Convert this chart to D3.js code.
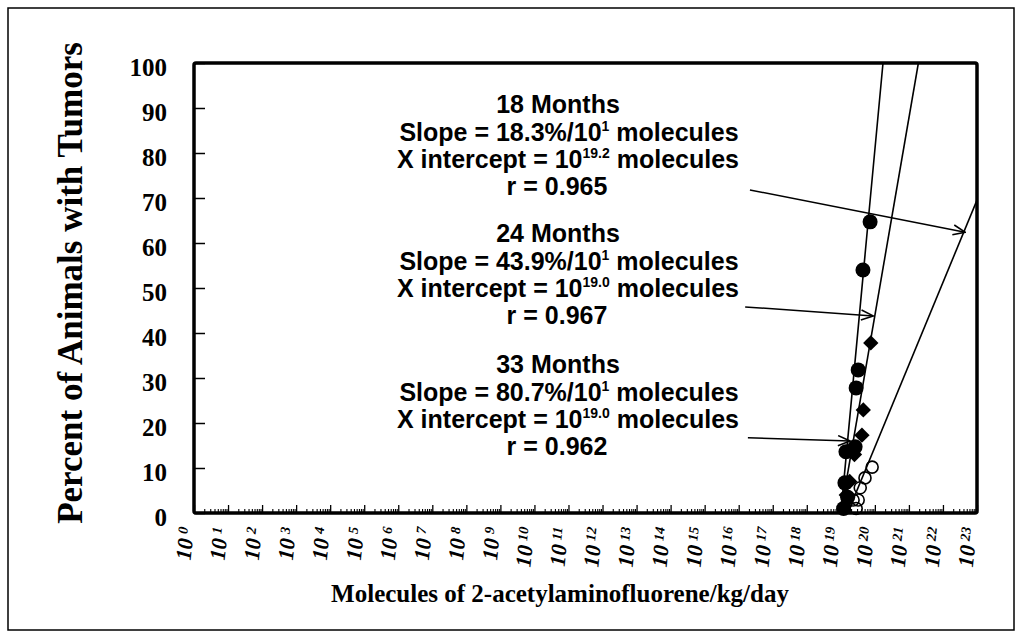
<!DOCTYPE html>
<html>
<head>
<meta charset="utf-8">
<script src="https://cdn.jsdelivr.net/npm/d3@7"></script>
<style>
  html, body { margin: 0; padding: 0; background: #fff; }
  svg { display: block; }
</style>
</head>
<body>
<svg id="chart" width="1023" height="638"></svg>
<script>
// ---------------- DATA ----------------
const seriesNames = ["18 Months", "24 Months", "33 Months"];
const slopes = [18.3, 43.9, 80.7];          // % per decade
const interceptExp = [19.2, 19.0, 19.0];    // log10 of x intercept
const interceptLabel = ["19.2", "19.0", "19.0"];
const rValues = ["0.965", "0.967", "0.962"];
const markerTypes = ["openCircle", "diamond", "filledCircle"];

// observed points: log10(dose) and percent with tumors
const logX18 = [19.92, 19.71, 19.57, 19.51, 19.36, 19.45];
const pct18  = [10.2, 7.8, 5.6, 2.9, 2.9, 1.0];
const logX24 = [19.88, 19.66, 19.62, 19.40, 19.26, 19.16, 19.10];
const pct24  = [37.8, 22.9, 17.3, 13.0, 7.0, 4.0, 1.5];
const logX33 = [19.86, 19.65, 19.51, 19.45, 19.42, 19.15, 19.12, 19.20, 19.08];
const pct33  = [64.7, 54.0, 31.8, 27.8, 14.7, 13.6, 6.7, 3.5, 1.0];

const yTicks = [0, 10, 20, 30, 40, 50, 60, 70, 80, 90, 100];
const xTickExps = d3.range(0, 24);   // 10^0 ... 10^23

// arrows (data coords: log10 x, percent)
const arrowFrom = [[16.33, 71.8], [16.19, 45.8], [16.27, 16.7]];
const arrowTo   = [[22.65, 62.4], [19.95, 43.8], [19.27, 16.0]];

const yTitle = "Percent of Animals with Tumors";
const xTitle = "Molecules of 2-acetylaminofluorene/kg/day";

// ---------------- LAYOUT ----------------
const svg = d3.select("#chart");
const L = 194, R = 977, T = 63, B = 513;
const x = d3.scaleLog().domain([1, 1e23]).range([L, R]);
const y = d3.scaleLinear().domain([0, 100]).range([B, T]);
const serif = "'Liberation Serif', 'Times New Roman', serif";
const sans = "'Liberation Sans', Arial, Helvetica, sans-serif";

// outer frame
svg.append("rect").attr("x", 8).attr("y", 8).attr("width", 1006).attr("height", 622)
  .attr("fill", "none").attr("stroke", "#000").attr("stroke-width", 1.5);

const defs = svg.append("defs");
defs.append("clipPath").attr("id", "plotClip")
  .append("rect").attr("x", L).attr("y", T).attr("width", R - L).attr("height", B - T);

// arrow marker
defs.append("marker")
  .attr("id", "arrowHead").attr("markerUnits", "userSpaceOnUse")
  .attr("viewBox", "0 0 14 12").attr("refX", 13).attr("refY", 6)
  .attr("markerWidth", 14).attr("markerHeight", 12).attr("orient", "auto")
  .append("path").attr("d", "M1,1 L13,6 L1,11")
  .attr("fill", "none").attr("stroke", "#000").attr("stroke-width", 1.6);

// y axis
const yAxis = d3.axisLeft(y).tickValues(yTicks).tickSizeInner(-11).tickSizeOuter(0).tickPadding(27);
const gy = svg.append("g").attr("transform", `translate(${L},0)`).call(yAxis);
gy.select(".domain").remove();
gy.selectAll(".tick line").attr("stroke-width", 1.5);
gy.selectAll(".tick text").attr("font-family", serif).attr("font-weight", "bold")
  .attr("font-size", 25).attr("dy", "0.5em").attr("fill", "#000");

// x axis major ticks
const majorVals = xTickExps.map(e => Math.pow(10, e));
const xAxis = d3.axisBottom(x).tickValues(majorVals).tickSizeInner(-8).tickSizeOuter(0).tickFormat(() => "");
const gx = svg.append("g").attr("transform", `translate(0,${B})`).call(xAxis);
gx.select(".domain").remove();
gx.selectAll(".tick text").remove();
gx.selectAll(".tick line").attr("stroke-width", 1.3);

// x axis minor ticks
const minorVals = [];
xTickExps.slice(0, 23).forEach(e => { for (let m = 2; m <= 9; m++) minorVals.push(m * Math.pow(10, e)); });
const xMinor = d3.axisBottom(x).tickValues(minorVals).tickSizeInner(-4).tickSizeOuter(0).tickFormat(() => "");
const gxm = svg.append("g").attr("transform", `translate(0,${B})`).call(xMinor);
gxm.select(".domain").remove();
gxm.selectAll(".tick text").remove();
gxm.selectAll(".tick line").attr("stroke-width", 1.1);

// x tick labels (rotated 10^n)
const labG = svg.append("g");
xTickExps.forEach(e => {
  const px = x(Math.pow(10, e));
  const t = labG.append("text")
    .attr("transform", `translate(${px},528) rotate(-84)`)
    .style("text-anchor", "end")
    .style("font-family", serif).style("font-weight", "bold").style("font-style", "italic")
    .style("fill", "#000");
  t.append("tspan").style("font-size", "22px").text("10");
  t.append("tspan").style("font-size", "14px").attr("dx", 4).attr("dy", -6).text(String(e));
});

// plot frame
svg.append("rect").attr("x", L).attr("y", T).attr("width", R - L).attr("height", B - T)
  .attr("fill", "none").attr("stroke", "#000").attr("stroke-width", 3.5).attr("rx", 2);

// regression lines
const plot = svg.append("g").attr("clip-path", "url(#plotClip)");
seriesNames.forEach((name, i) => {
  const x0 = interceptExp[i];
  const x1 = x0 + 100 / slopes[i];
  plot.append("line")
    .attr("x1", x(Math.pow(10, x0))).attr("y1", y(0))
    .attr("x2", x(Math.pow(10, x1))).attr("y2", y(100))
    .attr("stroke", "#000").attr("stroke-width", 1.6);
});

// points
const allX = [logX18, logX24, logX33];
const allY = [pct18, pct24, pct33];
const diamond = d3.symbol().type(d3.symbolDiamond2).size(150);
allX.forEach((xs, i) => {
  const data = xs.map((lx, k) => ({ lx, p: allY[i][k] }));
  const g = svg.append("g");
  if (markerTypes[i] === "diamond") {
    g.selectAll("path").data(data).join("path")
      .attr("d", diamond)
      .attr("transform", d => `translate(${x(Math.pow(10, d.lx))},${y(d.p)})`)
      .attr("fill", "#000");
  } else if (markerTypes[i] === "filledCircle") {
    g.selectAll("circle").data(data).join("circle")
      .attr("cx", d => x(Math.pow(10, d.lx))).attr("cy", d => y(d.p)).attr("r", 7.5)
      .attr("fill", "#000");
  } else {
    g.selectAll("circle").data(data).join("circle")
      .attr("cx", d => x(Math.pow(10, d.lx))).attr("cy", d => y(d.p)).attr("r", 6)
      .attr("fill", "none").attr("stroke", "#000").attr("stroke-width", 1.6);
  }
});

// arrows
arrowFrom.forEach((f, i) => {
  const t = arrowTo[i];
  svg.append("line")
    .attr("x1", x(Math.pow(10, f[0]))).attr("y1", y(f[1]))
    .attr("x2", x(Math.pow(10, t[0]))).attr("y2", y(t[1]))
    .attr("stroke", "#000").attr("stroke-width", 1.5)
    .attr("marker-end", "url(#arrowHead)");
});

// annotation text blocks
const blockTop = [113, 242, 373];
const lineGap = 28;
const cx = 564;
seriesNames.forEach((name, i) => {
  const g = svg.append("g").attr("font-family", sans).attr("font-weight", "bold")
    .attr("font-size", 25).attr("fill", "#000").attr("text-anchor", "middle");
  const b = blockTop[i];
  g.append("text").attr("x", cx - 6).attr("y", b).text(name);
  const t2 = g.append("text").attr("x", cx + 5).attr("y", b + lineGap);
  t2.append("tspan").text(`Slope = ${slopes[i].toFixed(1)}%/10`);
  t2.append("tspan").attr("font-size", 14).attr("dy", -10).text("1");
  t2.append("tspan").attr("dy", 10).text(" molecules");
  const t3 = g.append("text").attr("x", cx + 4).attr("y", b + lineGap * 2 - 1);
  t3.append("tspan").text("X intercept = 10");
  t3.append("tspan").attr("font-size", 14).attr("dy", -10).text(interceptLabel[i]);
  t3.append("tspan").attr("dy", 10).text(" molecules");
  g.append("text").attr("x", cx - 7).attr("y", b + lineGap * 3 - 2).text(`r = ${rValues[i]}`);
});

// axis titles
svg.append("text").attr("transform", `translate(82,283) rotate(-90)`)
  .attr("text-anchor", "middle").attr("font-family", serif).attr("font-weight", "bold")
  .attr("font-size", 35).attr("fill", "#000").text(yTitle);
svg.append("text").attr("x", 560).attr("y", 602)
  .attr("text-anchor", "middle").attr("font-family", serif).attr("font-weight", "bold")
  .attr("font-size", 25).attr("fill", "#000").text(xTitle);
</script>
</body>
</html>
